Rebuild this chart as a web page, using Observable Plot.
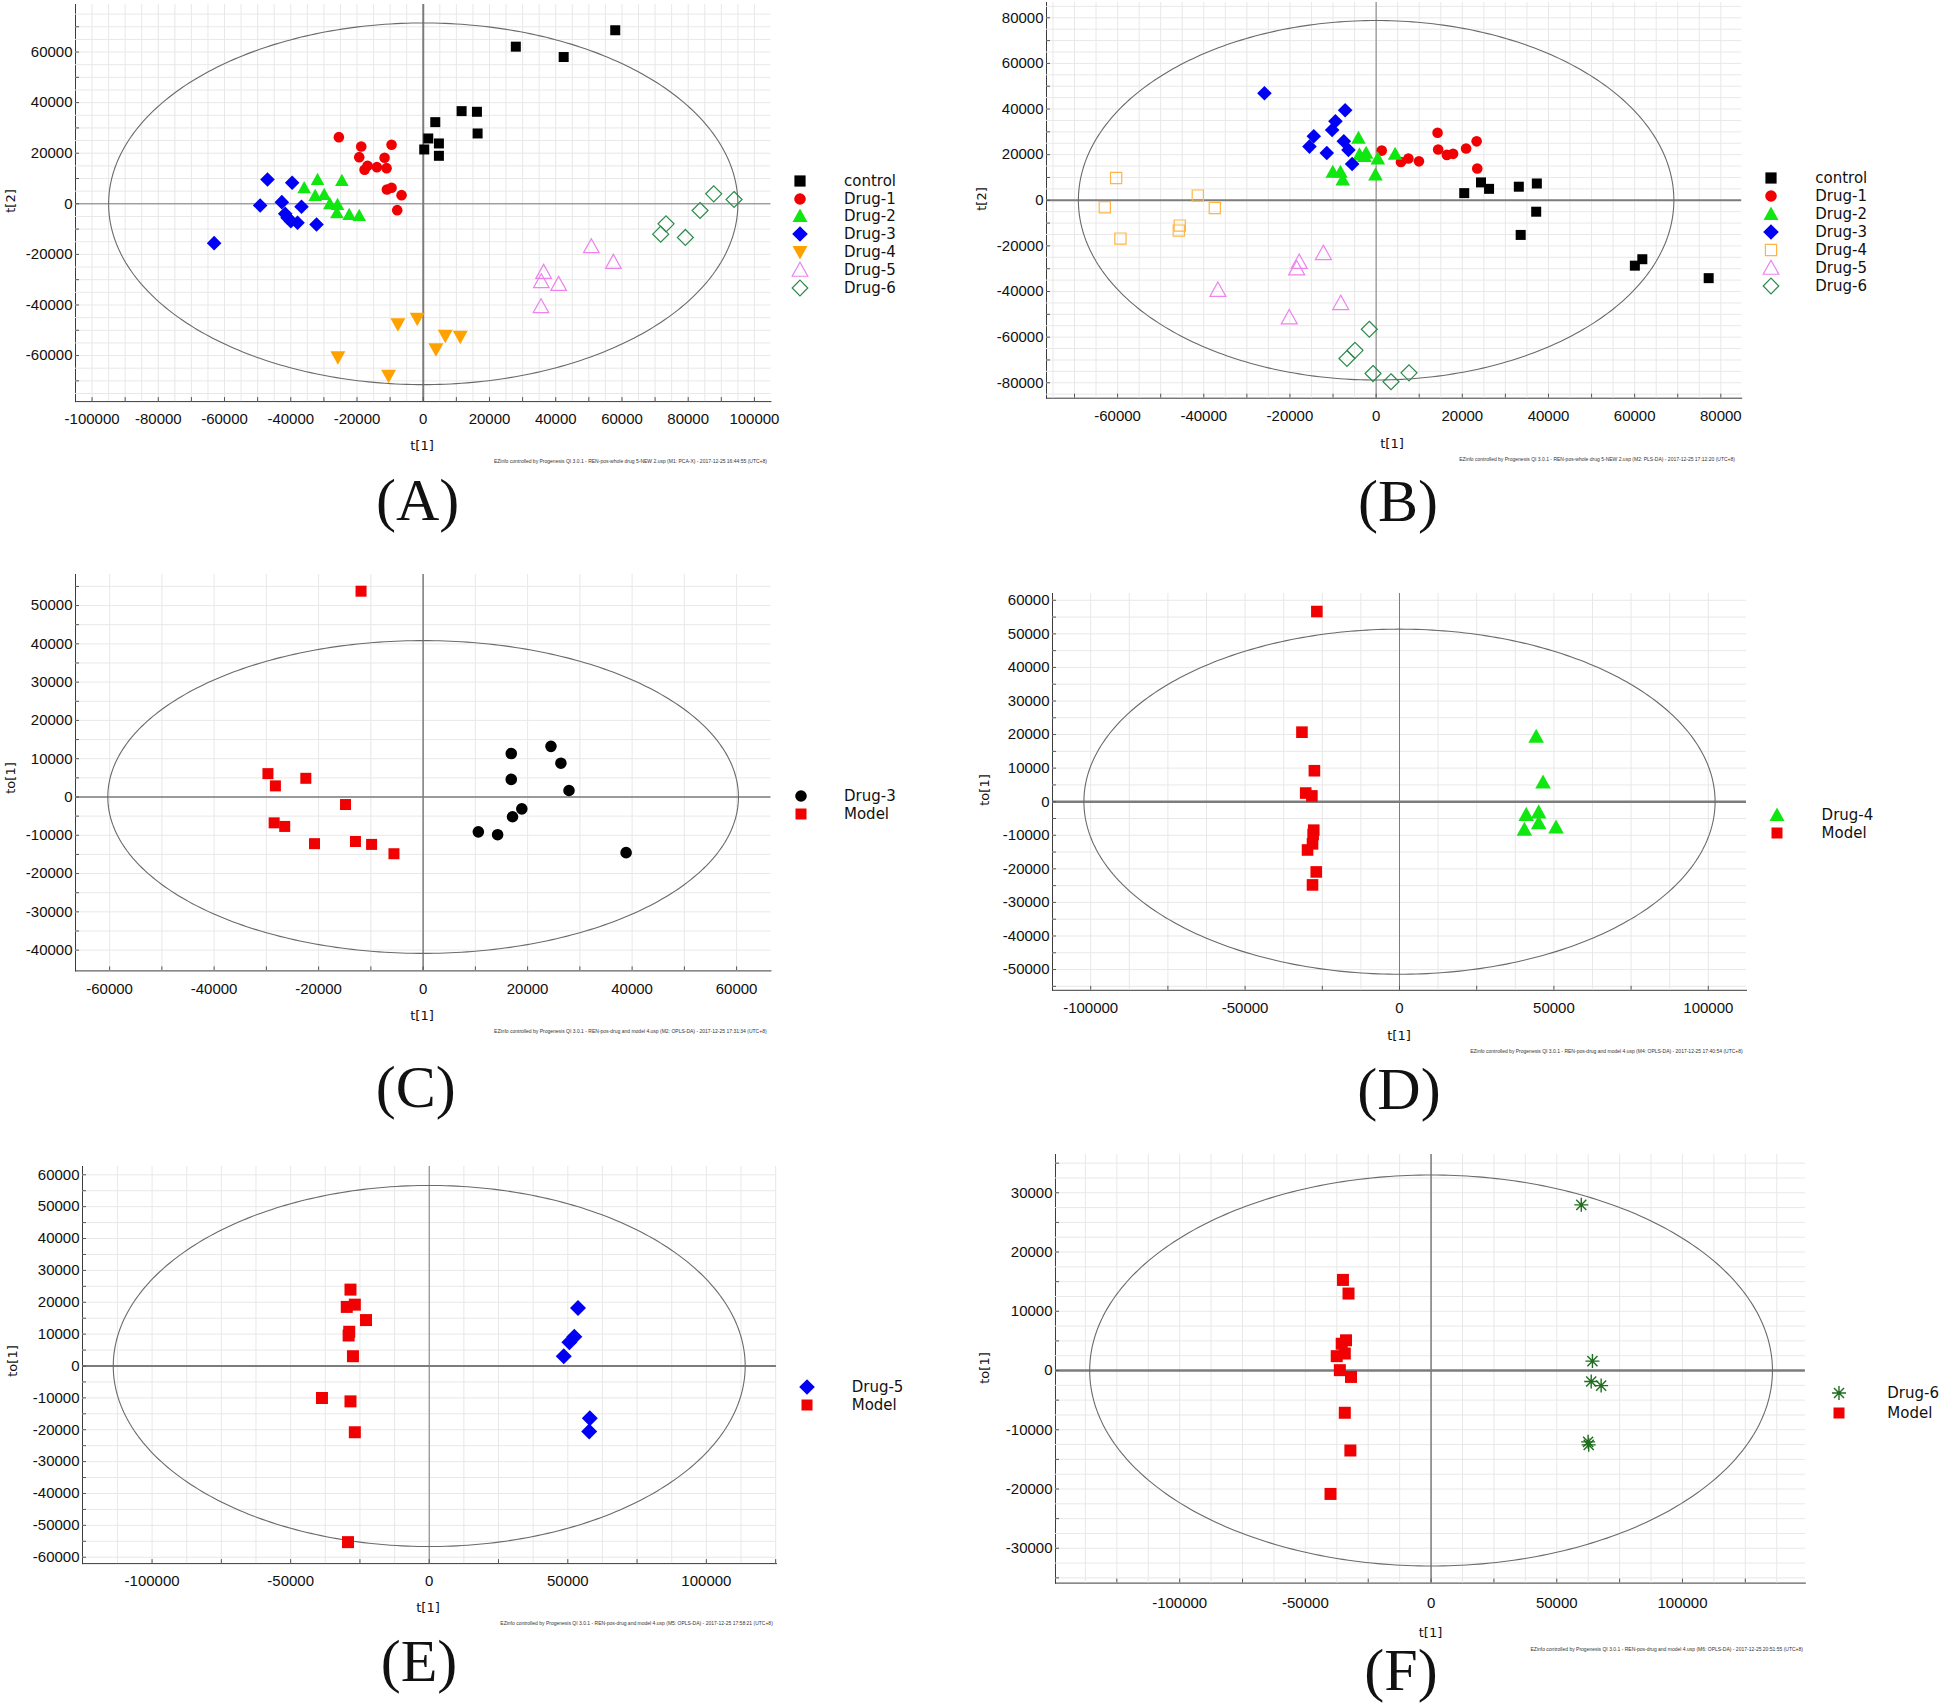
<!DOCTYPE html>
<html><head><meta charset="utf-8">
<script src="https://cdn.jsdelivr.net/npm/d3@7"></script>
<script src="https://cdn.jsdelivr.net/npm/@observablehq/plot@0.6"></script>
<style>
body{margin:0;background:#fff;}
#page{position:relative;width:1946px;height:1708px;overflow:hidden;background:#fff;}
.lbl{position:absolute;font-family:'DejaVu Sans',Verdana,sans-serif;color:#111;white-space:nowrap;line-height:1;}
.foot{position:absolute;font-family:'Liberation Sans',Arial,sans-serif;font-size:5px;color:#333;white-space:nowrap;line-height:1;transform:translateY(-50%);}
.tag{position:absolute;font-family:'Liberation Serif','Times New Roman',serif;font-size:60px;color:#111;line-height:1;transform:translate(-50%,-50%);white-space:nowrap;}
</style></head><body><div id="page"></div>
<script>
// ---------- DATA ----------
// Panel A (PCA)
const A_control = [[27950,62130],[42400,58030],[57970,68620],[11580,36640],[16210,36380],[16410,27810],[3630,32290],[1510,25830],[4730,23860],[300,21480],[4730,18980]];
const A_drug1 = [[-25480,26360],[-18730,22670],[-9570,23330],[-19330,18450],[-11680,18190],[-16820,15030],[-17720,13440],[-14000,14500],[-11080,14100],[-10980,5670],[-9570,6330],[-6550,3430],[-7860,-2500]];
const A_drug2 = [[-35950,6330],[-31920,9620],[-24570,9230],[-32630,3300],[-29910,3690],[-28200,0],[-25880,-260],[-26080,-3560],[-22360,-4220],[-19330,-4610]];
const A_drug3 = [[-47030,9620],[-39580,8300],[-49240,-660],[-42700,660],[-36760,-1190],[-41690,-3950],[-40980,-5540],[-39980,-6850],[-37960,-7510],[-32220,-8170],[-63140,-15550]];
const A_drug4 = [[-1810,-45470],[-7650,-47580],[6650,-52190],[11180,-52590],[3830,-57460],[-25780,-60630],[-10470,-68010]];
const A_drug5 = [[50750,-16870],[57400,-23070],[36350,-27020],[35650,-30710],[40880,-31760],[35550,-40590]];
const A_drug6 = [[87710,3950],[93850,1710],[83580,-2640],[73310,-7910],[71700,-11990],[79150,-13310]];
// Panel B (PLS-DA)
const B_control = [[20450,3130],[24340,7830],[26210,5010],[33120,5950],[37300,7360],[37150,-5010],[33550,-15190],[60050,-28660],[61780,-25840],[77180,-34140]];
const B_drug1 = [[1300,21770],[5760,16760],[7490,18320],[9940,17070],[14260,29600],[14400,22240],[16420,19890],[17860,20360],[20880,22710],[23330,25840],[23470,13940]];
const B_drug2 = [[-4100,27320],[-3870,20020],[-2710,19290],[-2320,20750],[390,18260],[4410,20310],[-10060,12420],[-8280,12420],[-7740,9060],[-150,11250]];
const B_drug3 = [[-25920,46900],[-7190,39450],[-9440,34630],[-10210,30830],[-14470,28050],[-15470,23520],[-11450,20750],[-7500,25860],[-6420,22060],[-5570,15920]];
const B_drug4 = [[-60340,9790],[-62970,-3070],[-41390,2050],[-37440,-3360],[-45570,-11100],[-45800,-13300],[-59340,-16800]];
const B_drug5 = [[-12240,-23180],[-17860,-27090],[-18430,-29910],[-36720,-39310],[-8210,-45100],[-20160,-51360]];
const B_drug6 = [[-1580,-56530],[-4900,-65770],[-6770,-69370],[-720,-75950],[3460,-79550],[7630,-75640]];
// Panel C (OPLS-DA Drug-3 vs Model)
const C_drug3 = [[16870,11350],[24470,13230],[26370,8820],[16870,4600],[27920,1690],[18890,-3100],[17110,-5160],[10570,-9100],[14260,-9850],[38850,-14540]];
const C_model = [[-11880,53750],[-29700,6100],[-28270,2900],[-22450,4880],[-14850,-1970],[-28510,-6750],[-26490,-7690],[-20790,-12190],[-12950,-11630],[-9860,-12380],[-5580,-14820]];
// Panel D
const D_drug4 = [[44260,19420],[46480,5790],[45070,-3110],[41040,-3860],[45070,-6330],[50700,-7620],[40440,-8260]];
const D_model = [[-26760,56650],[-31590,20710],[-27560,9230],[-30380,2580],[-28370,1720],[-27770,-8480],[-27970,-9760],[-28170,-12550],[-29780,-14380],[-26960,-20920],[-28170,-24790]];
// Panel E
const E_drug5 = [[53690,18190],[52350,9210],[50560,7440],[48540,3070],[57940,-16420],[57710,-20550]];
const E_model = [[-28410,23970],[-29750,18540],[-26840,19250],[-22820,14410],[-28860,10750],[-29080,9570],[-27520,3070],[-38700,-10040],[-28410,-11100],[-26840,-20790],[-29300,-55270]];
// Panel F
const F_drug6 = [[59750,27960],[64190,1590],[63700,-1850],[67650,-2550],[62470,-12040],[62710,-12550]];
const F_model = [[-35060,15290],[-32840,12990],[-33830,5100],[-35550,4520],[-34320,2870],[-37530,2420],[-36290,60],[-31850,-1080],[-34320,-7130],[-32100,-13500],[-40000,-20830]];

// Tick labels
const A_xTicks = [-100000,-80000,-60000,-40000,-20000,0,20000,40000,60000,80000,100000];
const A_yTicks = [-60000,-40000,-20000,0,20000,40000,60000];
const B_xTicks = [-60000,-40000,-20000,0,20000,40000,60000,80000];
const B_yTicks = [-80000,-60000,-40000,-20000,0,20000,40000,60000,80000];
const C_xTicks = [-60000,-40000,-20000,0,20000,40000,60000];
const C_yTicks = [-40000,-30000,-20000,-10000,0,10000,20000,30000,40000,50000];
const D_xTicks = [-100000,-50000,0,50000,100000];
const D_yTicks = [-50000,-40000,-30000,-20000,-10000,0,10000,20000,30000,40000,50000,60000];
const E_xTicks = [-100000,-50000,0,50000,100000];
const E_yTicks = [-60000,-50000,-40000,-30000,-20000,-10000,0,10000,20000,30000,40000,50000,60000];
const F_xTicks = [-100000,-50000,0,50000,100000];
const F_yTicks = [-30000,-20000,-10000,0,10000,20000,30000];

// Hotelling ellipse semi-axes
const A_ellipse = [95000,71500], B_ellipse = [69100,78800], C_ellipse = [60350,40850];
const D_ellipse = [102200,51400], E_ellipse = [114000,56650], F_ellipse = [135800,33000];

// ---------- symbols ----------
const hOf = s => Math.sqrt(s/Math.PI);
const SYM = {
  square:{draw(c,s){const h=hOf(s);c.rect(-h,-h,2*h,2*h);}},
  circle:{draw(c,s){const h=hOf(s);c.moveTo(h,0);c.arc(0,0,h,0,2*Math.PI);}},
  triUp:{draw(c,s){const h=hOf(s);c.moveTo(0,-h);c.lineTo(h,h*0.8);c.lineTo(-h,h*0.8);c.closePath();}},
  triDown:{draw(c,s){const h=hOf(s);c.moveTo(0,h);c.lineTo(h,-h*0.8);c.lineTo(-h,-h*0.8);c.closePath();}},
  diamond:{draw(c,s){const h=hOf(s);c.moveTo(0,-h);c.lineTo(h,0);c.lineTo(0,h);c.lineTo(-h,0);c.closePath();}},
  asterisk:{draw(c,s){const h=hOf(s),d=h*0.72;c.moveTo(0,-h);c.lineTo(0,h);c.moveTo(-h,0);c.lineTo(h,0);c.moveTo(-d,-d);c.lineTo(d,d);c.moveTo(-d,d);c.lineTo(d,-d);}}
};
const RED="#f00000", BLACK="#000", GREEN="#10e610", BLUE="#0000f5", ORANGE="#ffa200", ORANGE2="#ffb545", VIOLET="#ee82ee", DGREEN="#2a8a4a", AGREEN="#1e6e1e";

const page = document.getElementById("page");
const ML=72, MR=2, MT=2, MB=32;
function range(d, step){const a=[];for(let v=Math.ceil(d[0]/step)*step; v<d[1]; v+=step){ if(v>d[0]+step*0.1) a.push(v);} return a;}

function panel(p){
  const [L,T,R,B] = p.frame, fw=R-L, fh=B-T;
  const ell = d3.range(0,361).map(i=>({x:p.ellipse[0]*Math.cos(i*Math.PI/180), y:p.ellipse[1]*Math.sin(i*Math.PI/180)}));
  const marks = [
    Plot.ruleX(range(p.x, p.grid[0]), {stroke:"#e8e8e8", strokeWidth:1}),
    Plot.ruleY(range(p.y, p.grid[1]), {stroke:"#e8e8e8", strokeWidth:1}),
    Plot.ruleX([0], {stroke:"#7c7c7c", strokeWidth:p.zero[0]}),
    Plot.ruleY([0], {stroke:"#7c7c7c", strokeWidth:p.zero[1]}),
    Plot.line(ell, {x:"x", y:"y", stroke:"#6a6a6a", strokeWidth:1.1}),
    Plot.tickX(range(p.x, p.tick[0]), {x:d=>d, stroke:"#555", insetTop:fh-4}),
    Plot.tickY(range(p.y, p.tick[1]), {y:d=>d, stroke:"#555", insetRight:fw-4}),
    ...p.series.map(s=>Plot.dot(s.data, {x:d=>d[0], y:d=>d[1], symbol:SYM[s.sym], r:s.r,
      fill: s.hollow ? "none" : (s.sym==="asterisk"?"none":s.color),
      stroke: (s.hollow || s.sym==="asterisk") ? s.color : "none", strokeWidth: s.sym==="asterisk"?1.4:1.2}))
  ];
  const svg = Plot.plot({
    width: fw+ML+MR, height: fh+MT+MB, marginLeft:ML, marginRight:MR, marginTop:MT, marginBottom:MB,
    x:{domain:p.x, ticks:p.xt, tickFormat:d=>String(d), tickSize:0, tickPadding:p.xpad||12, label:null, line:true},
    y:{domain:p.y, ticks:p.yt, tickFormat:d=>String(d), tickSize:0, tickPadding:3, label:null, line:true},
    style:{fontFamily:"'Liberation Sans', Arial, sans-serif", fontSize:"15px", color:"#3a3a3a", background:"transparent", overflow:"visible"},
    marks
  });
  svg.style.position="absolute"; svg.style.left=(L-ML)+"px"; svg.style.top=(T-MT)+"px";
  svg.querySelectorAll("text").forEach(t=>t.setAttribute("fill","#111"));
  page.appendChild(svg);
  // axis titles
  const xt=document.createElement("div"); xt.className="lbl"; xt.style.fontSize="13px";
  xt.textContent=p.xTitle; xt.style.left=p.xTitlePos[0]+"px"; xt.style.top=p.xTitlePos[1]+"px"; xt.style.transform="translate(-50%,-50%)"; page.appendChild(xt);
  const yt=document.createElement("div"); yt.className="lbl"; yt.style.fontSize="13px";
  yt.textContent=p.yTitle; yt.style.left=p.yTitlePos[0]+"px"; yt.style.top=p.yTitlePos[1]+"px"; yt.style.transform="translate(-50%,-50%) rotate(-90deg)"; page.appendChild(yt);
  // legend
  p.series.forEach((s,i)=>{
    const y=p.legend[2]+i*p.legend[3];
    const g=d3.create("svg").attr("width",24).attr("height",24).style("position","absolute").style("left",(p.legend[0]-12)+"px").style("top",(y-12)+"px");
    const isStroke = s.hollow || s.sym==="asterisk";
    g.append("path").attr("transform","translate(12,12)").attr("d", d3.symbol(SYM[s.sym], Math.PI*s.lr*s.lr)())
      .attr("fill", isStroke?"none":s.color).attr("stroke", isStroke?s.color:"none").attr("stroke-width", s.sym==="asterisk"?1.4:1.2);
    page.appendChild(g.node());
    const t=document.createElement("div"); t.className="lbl"; t.style.fontSize="15px";
    t.style.left=p.legend[1]+"px"; t.style.top=y+"px"; t.style.transform="translateY(-50%)"; t.textContent=s.name; page.appendChild(t);
  });
  // footer
  const f=document.createElement("div"); f.className="foot"; f.textContent=p.footer;
  f.style.right=(1946-p.footPos[0])+"px"; f.style.top=p.footPos[1]+"px"; page.appendChild(f);
  // panel tag
  const tg=document.createElement("div"); tg.className="tag"; tg.textContent=p.tag;
  tg.style.left=p.tagPos[0]+"px"; tg.style.top=(p.tagPos[1]-5)+"px"; page.appendChild(tg);
}

const EZ = "EZinfo controlled by Progenesis QI 3.0.1 - ";

panel({frame:[74.5,3.6,770,400.7], x:[-105000,105000], y:[-78200,78800], xt:A_xTicks, yt:A_yTicks,
  grid:[5000,5000], tick:[10000,10000], zero:[2,1], ellipse:A_ellipse,
  series:[
    {name:"control", data:A_control, sym:"square", r:5, lr:5.6, color:BLACK},
    {name:"Drug-1", data:A_drug1, sym:"circle", r:5.3, lr:5.8, color:RED},
    {name:"Drug-2", data:A_drug2, sym:"triUp", r:6.8, lr:7.5, color:GREEN},
    {name:"Drug-3", data:A_drug3, sym:"diamond", r:7.3, lr:7.8, color:BLUE},
    {name:"Drug-4", data:A_drug4, sym:"triDown", r:7.5, lr:7.5, color:ORANGE},
    {name:"Drug-5", data:A_drug5, sym:"triUp", r:7.8, lr:7.8, color:VIOLET, hollow:true},
    {name:"Drug-6", data:A_drug6, sym:"diamond", r:8, lr:7.8, color:DGREEN, hollow:true}],
  legend:[800,844,180.7,17.8], xTitle:"t[1]", xTitlePos:[422,444.6], yTitle:"t[2]", yTitlePos:[10,201],
  footer:EZ+"REN-pos-whole drug 5-NEW 2.usp (M1: PCA-X) - 2017-12-25 16:44:55 (UTC+8)", footPos:[767,461],
  tag:"(A)", tagPos:[417.6,505]});

panel({frame:[1045.6,1.8,1740.8,397.5], x:[-76500,84840], y:[-86760,86700], xt:B_xTicks, yt:B_yTicks,
  grid:[5000,5000], tick:[10000,10000], zero:[1,2], ellipse:B_ellipse,
  series:[
    {name:"control", data:B_control, sym:"square", r:5, lr:5.6, color:BLACK},
    {name:"Drug-1", data:B_drug1, sym:"circle", r:5.3, lr:5.8, color:RED},
    {name:"Drug-2", data:B_drug2, sym:"triUp", r:7.3, lr:7.5, color:GREEN},
    {name:"Drug-3", data:B_drug3, sym:"diamond", r:7.3, lr:7.8, color:BLUE},
    {name:"Drug-4", data:B_drug4, sym:"square", r:5.6, lr:5.6, color:ORANGE2, hollow:true},
    {name:"Drug-5", data:B_drug5, sym:"triUp", r:8, lr:7.8, color:VIOLET, hollow:true},
    {name:"Drug-6", data:B_drug6, sym:"diamond", r:8, lr:7.8, color:DGREEN, hollow:true}],
  legend:[1770.6,1815.3,177.5,18], xTitle:"t[1]", xTitlePos:[1392,442.9], yTitle:"t[2]", yTitlePos:[981,199],
  footer:EZ+"REN-pos-whole drug 5-NEW 2.usp (M2: PLS-DA) - 2017-12-25 17:12:20 (UTC+8)", footPos:[1735,459],
  tag:"(B)", tagPos:[1398,506]});

panel({frame:[74.5,574.3,770,970.7], x:[-66530,66580], y:[-45420,58110], xt:C_xTicks, yt:C_yTicks,
  grid:[10000,5000], tick:[10000,5000], zero:[1.5,1.5], ellipse:C_ellipse,
  series:[
    {name:"Drug-3", data:C_drug3, sym:"circle", r:5.8, lr:5.8, color:BLACK},
    {name:"Model", data:C_model, sym:"square", r:5.5, lr:5.5, color:RED}],
  legend:[800.7,844,795.7,17.9], xTitle:"t[1]", xTitlePos:[422,1015.4], yTitle:"to[1]", yTitlePos:[10,778],
  footer:EZ+"REN-pos-drug and model 4.usp (M2: OPLS-DA) - 2017-12-25 17:31:34 (UTC+8)", footPos:[766.6,1031.4],
  tag:"(C)", tagPos:[415.7,1092]});

panel({frame:[1051.8,593.2,1745.8,990], x:[-112370,112370], y:[-56180,62020], xt:D_xTicks, yt:D_yTicks,
  grid:[12500,5000], tick:[25000,5000], zero:[1,2.5], ellipse:D_ellipse,
  series:[
    {name:"Drug-4", data:D_drug4, sym:"triUp", r:7.8, lr:7.5, color:GREEN},
    {name:"Model", data:D_model, sym:"square", r:5.8, lr:5.5, color:RED}],
  legend:[1776.8,1821.6,814.6,17.9], xTitle:"t[1]", xTitlePos:[1399,1035], yTitle:"to[1]", yTitlePos:[984,790],
  footer:EZ+"REN-pos-drug and model 4.usp (M4: OPLS-DA) - 2017-12-25 17:40:54 (UTC+8)", footPos:[1742.7,1051],
  tag:"(D)", tagPos:[1399,1094]});

panel({frame:[81.9,1166.1,775.9,1563.2], x:[-125100,125300], y:[-62000,62600], xt:E_xTicks, yt:E_yTicks,
  grid:[12500,5000], tick:[25000,5000], zero:[1,2], ellipse:E_ellipse,
  series:[
    {name:"Drug-5", data:E_drug5, sym:"diamond", r:8, lr:7.8, color:BLUE},
    {name:"Model", data:E_model, sym:"square", r:6, lr:5.5, color:RED}],
  legend:[807,851.7,1387,18], xTitle:"t[1]", xTitlePos:[428,1607.4], yTitle:"to[1]", yTitlePos:[12,1361],
  footer:EZ+"REN-pos-drug and model 4.usp (M5: OPLS-DA) - 2017-12-25 17:58:21 (UTC+8)", footPos:[772.8,1623.2],
  tag:"(E)", tagPos:[419,1666]});

panel({frame:[1054.9,1153.7,1804.8,1582.3], x:[-149400,148900], y:[-35880,36460], xt:F_xTicks, yt:F_yTicks,
  grid:[12500,2500], tick:[25000,5000], zero:[1.5,2.5], ellipse:F_ellipse, xpad:14,
  series:[
    {name:"Drug-6", data:F_drug6, sym:"asterisk", r:7, lr:7, color:AGREEN},
    {name:"Model", data:F_model, sym:"square", r:6, lr:5.5, color:RED}],
  legend:[1839,1887.3,1393,19.5], xTitle:"t[1]", xTitlePos:[1430.5,1631.8], yTitle:"to[1]", yTitlePos:[984,1368],
  footer:EZ+"REN-pos-drug and model 4.usp (M6: OPLS-DA) - 2017-12-25 20:51:55 (UTC+8)", footPos:[1803,1648.7],
  tag:"(F)", tagPos:[1401,1675]});
</script></body></html>
